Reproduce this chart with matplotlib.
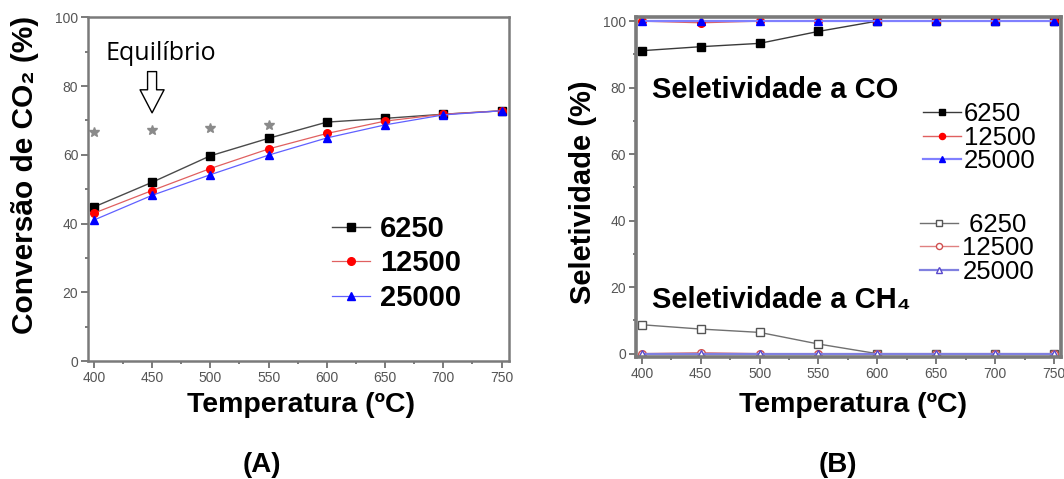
import matplotlib
matplotlib.use("Agg")
import matplotlib.pyplot as plt
from matplotlib.ticker import MultipleLocator

# ---- dados ----
temperatura = [400, 450, 500, 550, 600, 650, 700, 750]
ghsv = ["6250", "12500", "25000"]

# (A) conversao de CO2 (%)
conv_6250 = [44.8, 52.0, 59.7, 64.8, 69.5, 70.6, 71.8, 72.8]
conv_12500 = [43.0, 49.6, 56.0, 61.7, 66.2, 69.8, 71.8, 72.8]
conv_25000 = [41.0, 48.2, 54.2, 59.9, 64.9, 68.7, 71.6, 72.8]
temp_eq = [400, 450, 500, 550]
conv_eq = [66.5, 67.2, 67.8, 68.6]

# (B) seletividade (%)
co_6250 = [91.1, 92.3, 93.3, 96.9, 100, 100, 100, 100]
co_12500 = [100, 99.5, 100, 100, 100, 100, 100, 100]
co_25000 = [100, 100, 100, 100, 100, 100, 100, 100]
ch4_6250 = [8.7, 7.4, 6.4, 2.9, 0, 0, 0, 0]
ch4_12500 = [0, 0.3, 0, 0, 0, 0, 0, 0]
ch4_25000 = [0, 0, 0, 0, 0, 0, 0, 0]

BOLD = ["Liberation Sans", "DejaVu Sans"]
SPINE = "#7a7a7a"
TICK = "#555555"

fig = plt.figure(figsize=(10.64, 4.79), dpi=100)
axA = fig.add_axes([0.0827, 0.2463, 0.3953, 0.7176])
axB = fig.add_axes([0.5977, 0.2547, 0.3995, 0.7103])


def estilo(ax, lw, ymin, ymax):
    ax.set_xlim(395, 756)
    ax.set_ylim(ymin, ymax)
    ax.xaxis.set_major_locator(MultipleLocator(50))
    ax.xaxis.set_minor_locator(MultipleLocator(25))
    ax.yaxis.set_major_locator(MultipleLocator(20))
    ax.yaxis.set_minor_locator(MultipleLocator(10))
    for s in ax.spines.values():
        s.set_color(SPINE)
        s.set_linewidth(lw)
    ax.tick_params(which="both", direction="out", color=SPINE, width=1.4,
                   labelsize=10, labelcolor=TICK, pad=2)
    ax.tick_params(which="major", length=5)
    ax.tick_params(which="minor", length=2.5)
    for lab in ax.get_xticklabels() + ax.get_yticklabels():
        lab.set_family("Liberation Sans")


# ---------------- (A) ----------------
axA.plot(temperatura, conv_6250, "-s", color="#4a4a4a", mfc="black", mec="black",
         lw=1.0, ms=5.5, label=ghsv[0])
axA.plot(temperatura, conv_12500, "-o", color="#e06060", mfc="red", mec="red",
         lw=0.9, ms=5.5, label=ghsv[1])
axA.plot(temperatura, conv_25000, "-^", color="#6060ff", mfc="blue", mec="blue",
         lw=0.9, ms=5.5, label=ghsv[2])
axA.plot(temp_eq, conv_eq, "*", color="#8a8a8a", ms=7, ls="none")
estilo(axA, 1.8, 0, 100)

axA.text(410, 89.6, "Equilíbrio", family="Open Sans", fontsize=18,
         va="center", ha="left")
axA.annotate("", xy=(450, 72.2), xytext=(450, 84.2),
             arrowprops=dict(arrowstyle="simple,head_length=1.66,head_width=1.73,tail_width=0.65",
                             fc="white", ec="black", lw=1, mutation_scale=10,
                             shrinkA=0, shrinkB=0))

legA = axA.legend(loc="center left", bbox_to_anchor=(0.58, 0.284), frameon=False,
                  prop={"family": "Liberation Sans", "weight": "bold", "size": 21},
                  handlelength=1.3, handletextpad=0.35, labelspacing=0.22,
                  borderpad=0, borderaxespad=0)

axA.set_xlabel("Temperatura (ºC)", family=BOLD, fontweight="bold", fontsize=20.5,
               va="center")
axA.xaxis.set_label_coords(0.506, -0.128)
axA.set_ylabel("Conversão de CO₂ (%)", family=BOLD, fontweight="bold", fontsize=21.5,
               va="center")
axA.yaxis.set_label_coords(-0.15, 0.54)

# ---------------- (B) ----------------
h1 = axB.plot(temperatura, co_6250, "-s", color="#3a3a3a", mfc="black", mec="black",
              lw=1.0, ms=5.5, label=ghsv[0])
h2 = axB.plot(temperatura, co_12500, "-o", color="#e06060", mfc="red", mec="red",
              lw=1.0, ms=5.5, label=ghsv[1])
h3 = axB.plot(temperatura, co_25000, "-^", color="#8080ff", mfc="blue", mec="blue",
              lw=1.6, ms=5.5, label=ghsv[2])
h4 = axB.plot(temperatura, ch4_6250, "-s", color="#707070", mfc="white", mec="#555555",
              lw=1.0, ms=5.5, label=" " + ghsv[0])
h5 = axB.plot(temperatura, ch4_12500, "-o", color="#e08080", mfc="white", mec="#d05050",
              lw=1.0, ms=5.5, label=ghsv[1])
h6 = axB.plot(temperatura, ch4_25000, "-^", color="#8080e0", mfc="white", mec="#5a4acc",
              lw=1.6, ms=5.5, label=ghsv[2])
estilo(axB, 2.6, -1, 101.3)

axB.text(409, 79.3, "Seletividade a CO", family=BOLD, fontweight="bold", fontsize=21,
         va="center", ha="left")
axB.text(409, 16.2, "Seletividade a CH₄", family=BOLD, fontweight="bold", fontsize=21,
         va="center", ha="left")

propB = {"family": "Liberation Sans", "size": 18.5}
legB1 = axB.legend(handles=h1 + h2 + h3, loc="center left", bbox_to_anchor=(0.675, 0.644),
                   frameon=False, prop=propB, handlelength=1.5, handletextpad=0.1,
                   labelspacing=-0.02, borderpad=0, borderaxespad=0, markerscale=0.8)
axB.add_artist(legB1)
axB.legend(handles=h4 + h5 + h6, loc="center left", bbox_to_anchor=(0.668, 0.32),
           frameon=False, prop=propB, handlelength=1.5, handletextpad=0.15,
           labelspacing=-0.02, borderpad=0, borderaxespad=0, markerscale=0.8)

axB.set_xlabel("Temperatura (ºC)", family=BOLD, fontweight="bold", fontsize=20.5,
               va="center")
axB.xaxis.set_label_coords(0.51, -0.141)
axB.set_ylabel("Seletividade (%)", family=BOLD, fontweight="bold", fontsize=21,
               va="center")
axB.yaxis.set_label_coords(-0.125, 0.485)

fig.text(262 / 1064, 1 - 465 / 479, "(A)", family=BOLD, fontweight="bold",
         fontsize=20, ha="center", va="center")
fig.text(838 / 1064, 1 - 465 / 479, "(B)", family=BOLD, fontweight="bold",
         fontsize=20, ha="center", va="center")

fig.savefig("out.png", dpi=100)
